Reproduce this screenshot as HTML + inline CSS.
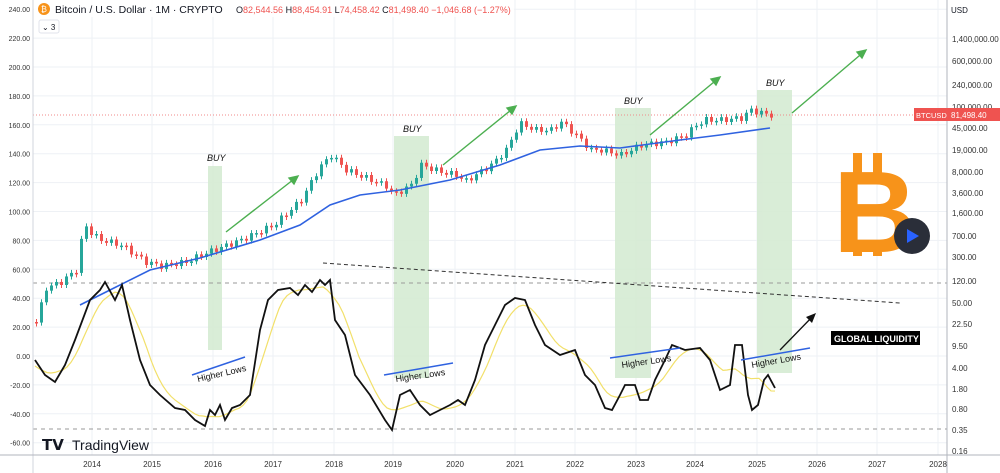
<!DOCTYPE html>
<html><head><meta charset="utf-8"><style>
body{margin:0;background:#fff;font-family:"Liberation Sans",sans-serif;}
#w{position:relative;width:1000px;height:473px;overflow:hidden;}
svg{position:absolute;left:0;top:0}
</style></head><body><div id="w">
<svg id="s" width="1000" height="473" xmlns="http://www.w3.org/2000/svg" font-family="Liberation Sans, sans-serif">
<g id="grid" stroke="#eef1f5" stroke-width="1"></g>
<g fill="#d5ebd3" opacity="0.9">
<rect x="208" y="166" width="14" height="184"/>
<rect x="394" y="136" width="35" height="242"/>
<rect x="615" y="108" width="36" height="270"/>
<rect x="757" y="90" width="35" height="283"/>
</g>
<line x1="33" y1="283" x2="947" y2="283" stroke="#9a9a9a" stroke-dasharray="4,4"/>
<line x1="33" y1="429" x2="947" y2="429" stroke="#9a9a9a" stroke-dasharray="4,4"/>
<line x1="33" y1="115" x2="915" y2="115" stroke="#f08a8a" stroke-dasharray="1,2"/>
<line x1="323" y1="263" x2="900" y2="303" stroke="#333" stroke-dasharray="4,3"/>
<g id="cand"></g>
<polyline id="ma" fill="none" stroke="#2f62e0" stroke-width="1.6"/>
<polyline id="yl" fill="none" stroke="#f2e06a" stroke-width="1.2"/>
<polyline id="bl" fill="none" stroke="#111" stroke-width="1.8"/>
<g stroke="#4caf50" stroke-width="1.4" fill="#4caf50">
<line x1="226" y1="232" x2="298" y2="176"/><polygon points="298,176 289,178 294,184"/>
<line x1="443" y1="165" x2="516" y2="106"/><polygon points="516,106 507,108 512,114"/>
<line x1="650" y1="135" x2="720" y2="77"/><polygon points="720,77 711,79 716,85"/>
<line x1="792" y1="113" x2="866" y2="50"/><polygon points="866,50 857,52 862,58"/>
</g>
<g stroke="#2f62e0" stroke-width="1.5">
<line x1="192" y1="375" x2="245" y2="357"/><line x1="384" y1="375" x2="453" y2="363"/>
<line x1="610" y1="358" x2="680" y2="348"/><line x1="741" y1="360" x2="810" y2="348"/>
</g>
<g font-size="9" fill="#111">
<text x="198" y="382" transform="rotate(-13 198 382)">Higher Lows</text>
<text x="396" y="382" transform="rotate(-8 396 382)">Higher Lows</text>
<text x="622" y="368" transform="rotate(-8 622 368)">Higher Lows</text>
<text x="752" y="368" transform="rotate(-10 752 368)">Higher Lows</text>
<g font-style="italic"><text x="207" y="161">BUY</text><text x="403" y="132">BUY</text><text x="624" y="104">BUY</text><text x="766" y="86">BUY</text></g>
</g>
<g stroke="#111" stroke-width="1.3"><line x1="780" y1="350" x2="814" y2="315"/></g>
<polygon points="816,313 806,317 812,323" fill="#111"/>
<rect x="831" y="331" width="89" height="14" fill="#000"/>
<text x="834" y="342" font-size="9" font-weight="bold" fill="#fff">GLOBAL LIQUIDITY</text>
<text x="875" y="252" font-size="116" font-weight="bold" fill="#f7931a" text-anchor="middle">B</text>
<rect x="853" y="153" width="9" height="20" fill="#f7931a"/><rect x="873" y="153" width="9" height="20" fill="#f7931a"/>
<rect x="853" y="240" width="9" height="16" fill="#f7931a"/><rect x="873" y="240" width="9" height="16" fill="#f7931a"/>
<circle cx="912" cy="236" r="18" fill="#2a2e39"/><polygon points="907,229 907,243 919,236" fill="#2962ff"/>
<rect x="947" y="0" width="53" height="473" fill="#fff"/>
<line x1="947" y1="0" x2="947" y2="473" stroke="#b2b5be"/>
<line x1="33" y1="0" x2="33" y2="473" stroke="#d1d4dc"/>
<line x1="0" y1="455" x2="1000" y2="455" stroke="#b2b5be"/>
<text x="951" y="13" font-size="8" fill="#131722">USD</text>
<g id="ry" font-size="8" fill="#333"></g>
<g id="ly" font-size="7" fill="#333" text-anchor="end"></g>
<g id="xt" font-size="8" fill="#333" text-anchor="middle"></g>
<rect x="914" y="108" width="33" height="13" fill="#ef5350"/><text x="916" y="118" font-size="7.5" fill="#fff">BTCUSD</text>
<rect x="947" y="108" width="53" height="13" fill="#ef5350"/><text x="951" y="118" font-size="8" fill="#fff">81,498.40</text>
<rect x="34" y="0" width="480" height="17" fill="#fff" opacity="0.85"/>
<circle cx="44" cy="9" r="6" fill="#f7931a"/><text x="44" y="12" font-size="8" fill="#fff" text-anchor="middle">₿</text>
<text x="55" y="13" font-size="10.5" fill="#131722">Bitcoin / U.S. Dollar · 1M · CRYPTO</text>
<text x="236" y="13" font-size="9" fill="#ef5350"><tspan fill="#131722">O</tspan>82,544.56 <tspan fill="#131722">H</tspan>88,454.91 <tspan fill="#131722">L</tspan>74,458.42 <tspan fill="#131722">C</tspan>81,498.40 −1,046.68 (−1.27%)</text>
<rect x="39" y="20" width="20" height="13" fill="#fff" stroke="#e0e3eb" rx="2"/><text x="42" y="30" font-size="8" fill="#131722">⌄ 3</text>
<text x="42" y="450" font-size="15" font-weight="bold" fill="#131722">𝗧𝗩</text>
<text x="72" y="450" font-size="14" fill="#131722">TradingView</text>
</svg>
<script>
(function(){
var N="http://www.w3.org/2000/svg";function el(p,t,a,tx){var e=document.createElementNS(N,t);for(var k in a)e.setAttribute(k,a[k]);if(tx)e.textContent=tx;document.getElementById(p).appendChild(e);return e;}
var yrs=[92,152,213,273,334,393,455,515,575,636,695,757,817,877,938];
yrs.forEach(function(x,i){el("grid","line",{x1:x,y1:0,x2:x,y2:455});el("xt","text",{x:x,y:467},String(2014+i));});
for(var v=240;v>=-60;v-=20){var yy=356-v*1.445;el("grid","line",{x1:33,y1:yy,x2:947,y2:yy});el("ly","text",{x:30,y:yy+3},v.toFixed(2));}
var rl=[["1,400,000.00",42],["600,000.00",64],["240,000.00",88],["100,000.00",110],["45,000.00",131],["19,000.00",153],["8,000.00",175],["3,600.00",196],["1,600.00",216],["700.00",239],["300.00",260],["120.00",284],["50.00",306],["22.50",327],["9.50",349],["4.00",371],["1.80",392],["0.80",412],["0.35",433],["0.16",454]];
rl.forEach(function(r){el("ry","text",{x:952,y:r[1]},r[0]);});
function interp(pts,x){for(var i=0;i<pts.length-1;i++){if(x>=pts[i][0]&&x<=pts[i+1][0]){var t=(x-pts[i][0])/(pts[i+1][0]-pts[i][0]);return pts[i][1]+t*(pts[i+1][1]-pts[i][1]);}}return pts[pts.length-1][1];}
var pc=[[35,322],[45,288],[60,282],[75,270],[83,224],[92,235],[100,240],[120,245],[145,262],[160,266],[185,262],[200,255],[213,250],[240,240],[273,225],[300,200],[318,168],[330,155],[345,170],[370,180],[385,186],[393,195],[410,185],[420,165],[440,172],[455,175],[465,181],[490,165],[505,150],[515,130],[520,124],[535,130],[550,130],[560,122],[575,135],[590,150],[600,150],[620,155],[640,145],[665,142],[685,135],[695,125],[705,120],[720,120],[740,118],[750,110],[760,113],[770,115]];
var prev=interp(pc,35);
for(var x=35;x<=770;x+=5){var c=interp(pc,x)+Math.sin(x*1.7)*3;var up=c<prev;var col=up?"#26a69a":"#ef5350";var tp=Math.min(c,prev),h=Math.max(1.5,Math.abs(c-prev));
el("cand","line",{x1:x+1.5,y1:tp-3,x2:x+1.5,y2:tp+h+3,stroke:col,"stroke-width":1});el("cand","rect",{x:x,y:tp,width:3,height:h,fill:col});prev=c;}
var ma=[[80,305],[110,290],[150,270],[200,258],[260,240],[300,225],[330,205],[360,195],[400,190],[450,180],[500,165],[540,150],[580,146],[620,148],[680,140],[720,135],[770,128]];
document.getElementById("ma").setAttribute("points",ma.join(" "));
var bl=[[35,360],[45,375],[55,382],[65,365],[75,340],[90,300],[100,290],[105,282],[115,300],[122,285],[130,320],[140,360],[150,385],[160,395],[175,408],[185,410],[195,420],[205,426],[210,410],[215,415],[220,405],[225,420],[232,408],[240,405],[250,395],[260,330],[268,300],[278,290],[290,288],[298,295],[305,285],[312,292],[320,280],[325,285],[330,280],[335,320],[345,335],[355,375],[370,395],[385,420],[392,430],[400,395],[410,390],[420,405],[430,415],[440,410],[450,405],[458,400],[465,405],[475,380],[485,345],[495,325],[505,305],[515,298],[525,300],[535,325],[545,345],[560,355],[575,350],[585,375],[595,385],[605,408],[612,410],[620,395],[625,385],[635,385],[640,400],[648,400],[655,380],[665,360],[672,345],[685,350],[700,348],[710,360],[720,390],[730,385],[735,345],[742,345],[748,395],[752,410],[758,405],[764,380],[768,375],[775,388]];
document.getElementById("bl").setAttribute("points",bl.join(" "));
var yl=[];for(var x2=35;x2<=775;x2+=4){var s=0,n=0;for(var d=-8;d<=24;d+=4){var xx=x2-d;if(xx>=35){s+=interp(bl,xx);n++;}}yl.push([x2,s/n]);}
document.getElementById("yl").setAttribute("points",yl.join(" "));
})();
</script>
</div></body></html>
